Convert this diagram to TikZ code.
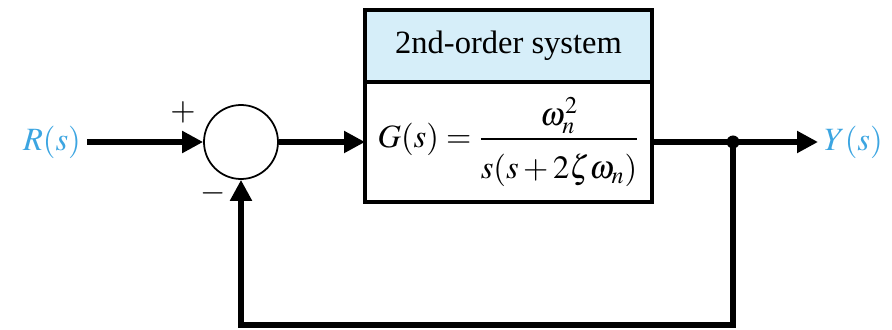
\documentclass[tikz,border=0pt]{standalone}
\usepackage{mathptmx}
\usepackage[no-math]{fontspec}
\setmainfont{Liberation Serif}
\usetikzlibrary{arrows.meta,positioning}

\definecolor{sigblue}{RGB}{60,165,225}
\definecolor{titlefill}{RGB}{214,238,249}

\tikzset{
  sig/.style={line width=2.9pt,-{Triangle[length=4.2mm,width=4.2mm]}},
  wire/.style={line width=2.9pt},
  sumnode/.style={circle,draw,line width=1pt,minimum size=1.48cm,inner sep=0pt},
  blockbox/.style={rectangle,draw,line width=2.4pt,outer sep=0pt,minimum width=5.74cm,inner sep=0pt},
}

\begin{document}
\begin{tikzpicture}[font=\fontsize{18.5}{22}\selectfont]
  \useasboundingbox (0,0) rectangle (17.84,6.58);

  % Blok: G(s) ve başlık
  \node[blockbox,minimum height=2.4cm] (plant) at (10.17,3.74)
    {$G(s)=\displaystyle\frac{\omega_n^2\rule[-5pt]{0pt}{0pt}}{\rule{0pt}{20pt}s(s+2\zeta\omega_n)}$};
  \node[blockbox,fill=titlefill,minimum height=1.44cm,above=0pt of plant] (title) {2nd-order system};

  % Toplama noktası
  \node[sumnode] (sum) at (4.82,3.74) {};
  \node (plus) at (3.66,4.34) {$+$};
  \node (minus) at (4.26,2.72) {$-$};

  % Giriş R(s)
  \coordinate (in) at (1.74,3.74);
  \node[text=sigblue,left=0pt of in] (rin) {$R(s)$};
  \draw[sig] (in) -- (sum.west);
  \draw[sig] (sum.east) -- (plant.west);

  % Çıkış Y(s)
  \coordinate (tap) at (14.66,3.74);
  \coordinate (out) at (16.36,3.74);
  \node[text=sigblue,right=0pt of out] (yout) {$Y(s)$};
  \draw[wire] (plant.east) -- (tap);
  \draw[sig] (tap) -- (out);

  % Geri besleme
  \coordinate (fb) at (14.66,0.08);
  \draw[sig] (tap) -- (fb) -| (sum.south);
  \fill (tap) circle (0.13);
\end{tikzpicture}
\end{document}
